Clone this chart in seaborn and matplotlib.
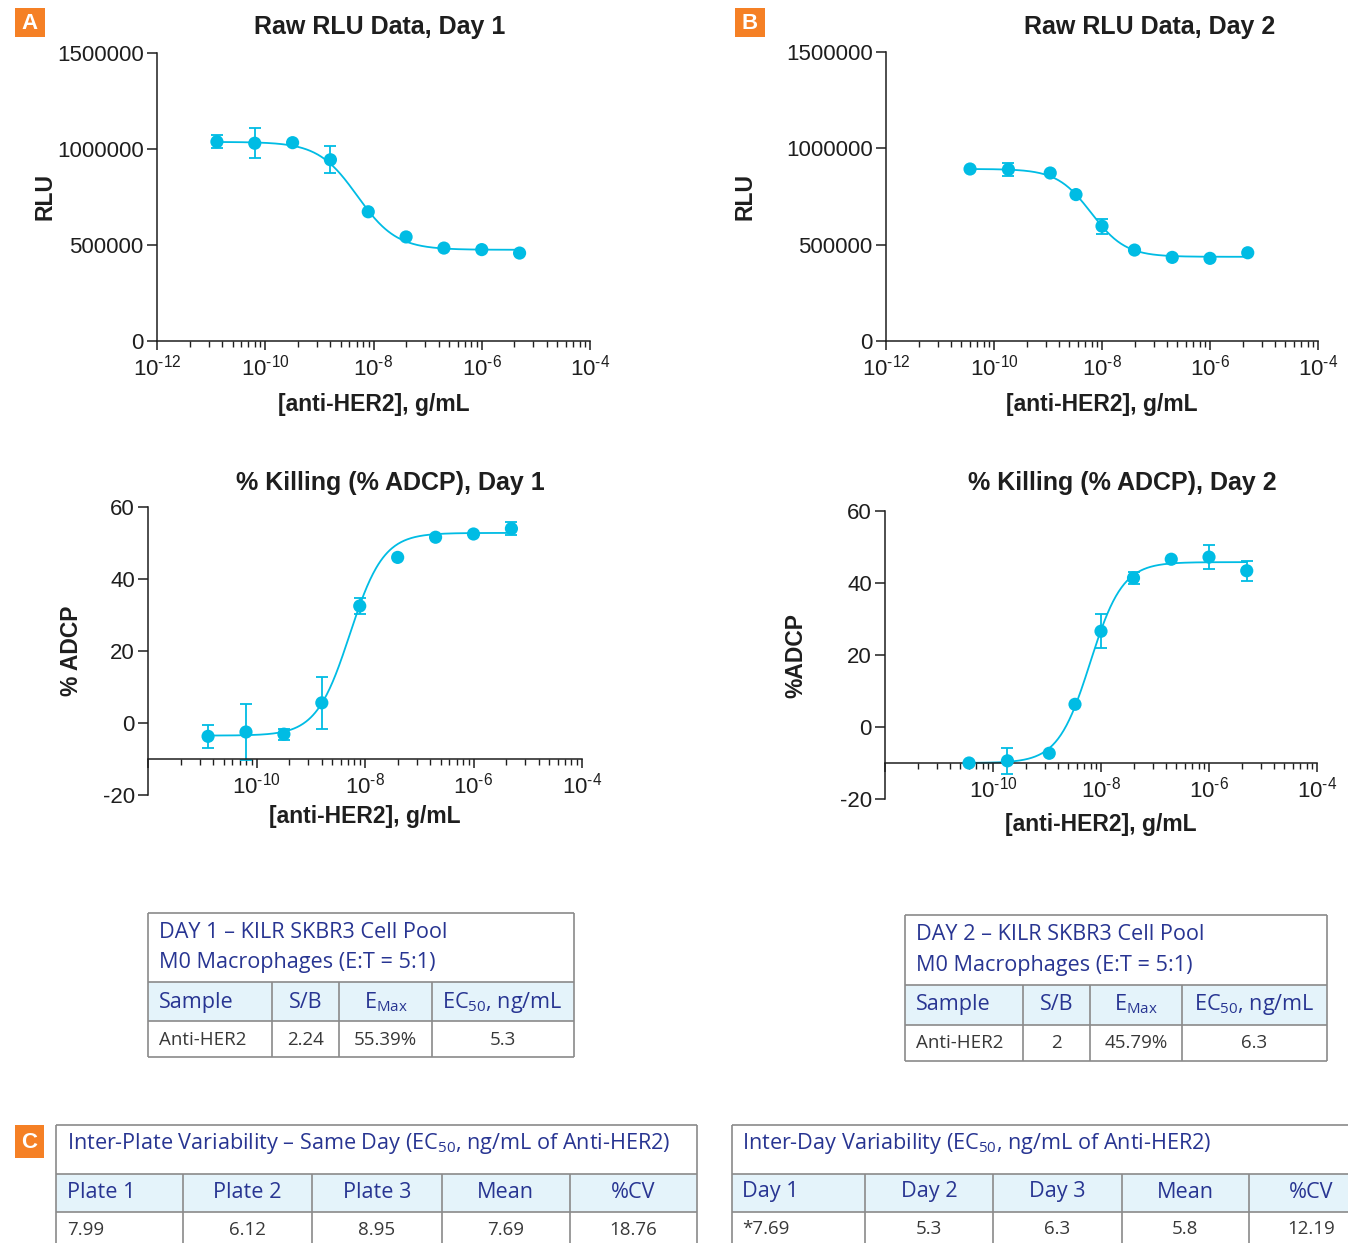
import numpy as np
import pandas as pd
import matplotlib
matplotlib.use("Agg")
import matplotlib.pyplot as plt
import seaborn as sns
from matplotlib.patches import Rectangle
from matplotlib.ticker import FixedLocator, NullFormatter

# ---------------- data ----------------
conc_day1 = [1.28e-11, 6.4e-11, 3.2e-10, 1.6e-9, 8e-9, 4e-8, 2e-7, 1e-6, 5e-6]
conc_day2 = [3.6e-11, 1.85e-10, 1.1e-9, 3.3e-9, 1.0e-8, 4e-8, 2e-7, 1e-6, 5e-6]

rlu_day1 = [1038000, 1030000, 1033000, 944000, 673000, 542000, 484000, 476000, 458000]
rlu_day1_err = [35000, 78000, 0, 71000, 0, 0, 0, 0, 0]
rlu_day2 = [892700, 890600, 871900, 760000, 596000, 472000, 434000, 429000, 458000]
rlu_day2_err = [0, 33000, 0, 0, 39000, 0, 0, 0, 0]

adcp_day1 = [-3.7, -2.5, -3.1, 5.6, 32.5, 46.0, 51.6, 52.5, 54.0]
adcp_day1_err = [3.2, 7.9, 1.5, 7.2, 2.1, 0, 0, 0, 1.8]
adcp_day2 = [-10.0, -9.4, -7.3, 6.3, 26.6, 41.4, 46.6, 47.2, 43.4]
adcp_day2_err = [0, 3.6, 0, 0, 4.7, 1.7, 0, 3.4, 2.8]

# 4PL fit parameters: (low-dose plateau, high-dose plateau, logEC50, hill)
fit_rlu_day1 = (1037000, 475000, -8.30, 1.2)
fit_rlu_day2 = (893000, 437000, -8.20, 1.37)
fit_adcp_day1 = (-3.5, 52.8, -8.28, 1.4)
fit_adcp_day2 = (-10.0, 45.8, -8.20, 1.45)

x_major = [1e-12, 1e-10, 1e-8, 1e-6, 1e-4]
x_major_labels = [r"$\mathdefault{10^{\text{-}12}}$", r"$\mathdefault{10^{\text{-}10}}$",
                  r"$\mathdefault{10^{\text{-}8}}$", r"$\mathdefault{10^{\text{-}6}}$",
                  r"$\mathdefault{10^{\text{-}4}}$"]
x_minor = [10.0 ** m * k ** 2 for m in (-12, -10, -8, -6) for k in range(2, 10)]

rlu_ticks = [0, 500000, 1000000, 1500000]
rlu_tick_labels = ["0", "500000", "1000000", "1500000"]
adcp_ticks = [-20, 0, 20, 40, 60]
adcp_tick_labels = ["-20", "0", "20", "40", "60"]

table1_title = ["DAY 1 \u2013 KILR SKBR3 Cell Pool", "M0 Macrophages (E:T = 5:1)"]
table2_title = ["DAY 2 \u2013 KILR SKBR3 Cell Pool", "M0 Macrophages (E:T = 5:1)"]
table_day_header = ["Sample", "S/B", r"E$_{\mathdefault{Max}}$", r"EC$_{\mathdefault{50}}$, ng/mL"]
table1_row = ["Anti-HER2", "2.24", "55.39%", "5.3"]
table2_row = ["Anti-HER2", "2", "45.79%", "6.3"]

plate_title = "Inter-Plate Variability \u2013 Same Day (EC$_{\\mathdefault{50}}$, ng/mL of Anti-HER2)"
plate_header = ["Plate 1", "Plate 2", "Plate 3", "Mean", "%CV"]
plate_row = ["7.99", "6.12", "8.95", "7.69", "18.76"]
day_title = r"Inter-Day Variability (EC$_{\mathdefault{50}}$, ng/mL of Anti-HER2)"
day_header = ["Day 1", "Day 2", "Day 3", "Mean", "%CV"]
day_row = ["*7.69", "5.3", "6.3", "5.8", "12.19"]

# ---------------- style ----------------
sns.set_style("ticks")
plt.rcParams["font.family"] = ["Liberation Sans", "DejaVu Sans"]
plt.rcParams["axes.unicode_minus"] = False
plt.rcParams["mathtext.fontset"] = "custom"
plt.rcParams["mathtext.rm"] = "Liberation Sans"
plt.rcParams["mathtext.it"] = "Liberation Sans:italic"
plt.rcParams["mathtext.bf"] = "Liberation Sans:bold"

CYAN = "#00BCE4"
INK = "#1e1e1e"
NAVY = "#283592"
GREY_TXT = "#383838"
BORDER = "#8a8a8a"
HEADBG = "#E4F3FA"
ORANGE = "#F58025"

W, H = 1348, 1243
fig = plt.figure(figsize=(W / 100, H / 100), dpi=100)


def px_axes(l, r, t, b):
    return fig.add_axes([l / W, 1 - b / H, (r - l) / W, (b - t) / H])


def four_pl(x, p):
    low, high, logec, h = p
    return high + (low - high) / (1 + 10 ** ((np.log10(x) - logec) * h))


def draw_panel(ax, conc, vals, errs, fit, yticks, ylabels, ylim, show_first_xlabel,
               xaxis_at=None):
    ax.set_xscale("log")
    conc = np.array(conc)
    vals = np.array(vals)
    errs = np.array(errs)
    xs = np.logspace(np.log10(conc.min()), np.log10(conc.max()), 400)
    sns.lineplot(x=xs, y=four_pl(xs, fit), ax=ax, color=CYAN, lw=1.3, zorder=2,
                 estimator=None, sort=False)
    m = errs > 0
    ax.errorbar(conc[m], vals[m], yerr=errs[m], fmt="none", ecolor=CYAN,
                elinewidth=1.3, capsize=4.6, capthick=1.3, zorder=2)
    df = pd.DataFrame({"conc": conc, "val": vals})
    sns.scatterplot(data=df, x="conc", y="val", ax=ax, color=CYAN, s=90,
                    edgecolor="none", linewidth=0, zorder=3)
    ax.set_xlim(1e-12, 1e-4)
    ax.set_ylim(*ylim)
    ax.xaxis.set_major_locator(FixedLocator(x_major))
    labs = list(x_major_labels)
    if not show_first_xlabel:
        labs[0] = ""
    ax.set_xticklabels(labs)
    ax.xaxis.set_minor_locator(FixedLocator(x_minor))
    ax.xaxis.set_minor_formatter(NullFormatter())
    ax.set_yticks(yticks)
    ax.set_yticklabels(ylabels)
    sns.despine(ax=ax)
    if xaxis_at is not None:
        ax.spines["bottom"].set_position(("data", xaxis_at))
    for s in ("left", "bottom"):
        ax.spines[s].set_linewidth(1.1)
        ax.spines[s].set_color(INK)
    ax.tick_params(axis="x", which="major", length=6.5, width=1.1, pad=3,
                   labelsize=16, colors=INK)
    ax.tick_params(axis="x", which="minor", length=4.5, width=1.0, colors=INK)
    ax.tick_params(axis="y", which="major", length=7.5, width=1.1, pad=2,
                   labelsize=16, colors=INK)
    ax.set_xlabel("")
    ax.set_ylabel("")


# Overlay axes for tables and panel badges
axt = fig.add_axes([0, 0, 1, 1])
axt.set_xlim(0, W)
axt.set_ylim(H, 0)
axt.axis("off")

# ---------- plots ----------
axA = px_axes(157, 590, 53, 341)
draw_panel(axA, conc_day1, rlu_day1, rlu_day1_err, fit_rlu_day1, rlu_ticks,
           rlu_tick_labels, (0, 1500000), True)
axB = px_axes(886, 1318, 52, 341)
draw_panel(axB, conc_day2, rlu_day2, rlu_day2_err, fit_rlu_day2, rlu_ticks,
           rlu_tick_labels, (0, 1500000), True)
axC = px_axes(148, 582, 507, 795)
draw_panel(axC, conc_day1, adcp_day1, adcp_day1_err, fit_adcp_day1, adcp_ticks,
           adcp_tick_labels, (-20, 60), False, xaxis_at=-10)
axD = px_axes(885, 1317, 511, 799)
draw_panel(axD, conc_day2, adcp_day2, adcp_day2_err, fit_adcp_day2, adcp_ticks,
           adcp_tick_labels, (-20, 60), False, xaxis_at=-10)

lab_kw = dict(fontsize=16.5, fontweight="bold", color=INK)
for ax, yl, yx, xy in [
    (axA, "RLU", (45 - 157) / 433, (404 - 341) / 288),
    (axB, "RLU", (745 - 886) / 432, (404 - 341) / 289),
    (axC, "% ADCP", (72 - 148) / 434, (816 - 795) / 288),
    (axD, "%ADCP", (796 - 885) / 432, (824 - 799) / 288),
]:
    ax.set_ylabel(yl, va="center", **lab_kw)
    ax.yaxis.set_label_coords(yx, 0.5)
    ax.set_xlabel("[anti-HER2], g/mL", va="center", **lab_kw)
    ax.xaxis.set_label_coords(0.5, -xy)

title_kw = dict(fontsize=18, fontweight="bold", color=INK, ha="center", va="center")
fig.text(380 / W, 1 - 27 / H, "Raw RLU Data, Day 1", **title_kw)
fig.text(1150 / W, 1 - 27 / H, "Raw RLU Data, Day 2", **title_kw)
fig.text(390 / W, 1 - 483 / H, "% Killing (% ADCP), Day 1", **title_kw)
fig.text(1122 / W, 1 - 483 / H, "% Killing (% ADCP), Day 2", **title_kw)

# ---------- panel badges ----------
for (bx, by, bw, bh, letter) in [(15, 8, 30, 29, "A"), (735, 8, 30, 29, "B"),
                                 (15, 1125, 29, 33, "C")]:
    axt.add_patch(Rectangle((bx, by), bw, bh, facecolor=ORANGE, edgecolor="none"))
    axt.text(bx + bw / 2, by + bh / 2 + 1, letter, color="white", fontsize=16,
             fontweight="bold", ha="center", va="center",
             family=["Liberation Sans", "DejaVu Sans"])

# ---------- tables ----------
TFONT = ["Open Sans", "DejaVu Sans"]


def hline(x0, x1, y):
    axt.plot([x0, x1], [y, y], color=BORDER, lw=1.2, solid_capstyle="butt")


def vline(x, y0, y1):
    axt.plot([x, x], [y0, y1], color=BORDER, lw=1.2, solid_capstyle="butt")


def draw_table(x0, x1, y0, yh0, yh1, y1, cols, title_lines, title_ys, header, row,
               text_x, centers, y_head, y_row, title_size=15.6, row_size=13.5):
    axt.add_patch(Rectangle((x0, yh0), x1 - x0, yh1 - yh0, facecolor=HEADBG,
                            edgecolor="none"))
    hline(x0, x1, y0)
    hline(x0, x1, yh0)
    hline(x0, x1, yh1)
    hline(x0, x1, y1)
    vline(x0, y0, y1)
    vline(x1, y0, y1)
    for c in cols:
        vline(c, yh0, y1)
    for t, ty in zip(title_lines, title_ys):
        axt.text(text_x, ty, t, color=NAVY, fontsize=title_size, ha="left",
                 va="center", family=TFONT)
    for i, (h, r) in enumerate(zip(header, row)):
        if i == 0:
            axt.text(text_x, y_head, h, color=NAVY, fontsize=title_size, ha="left",
                     va="center", family=TFONT)
            axt.text(text_x, y_row, r, color=GREY_TXT, fontsize=row_size, ha="left",
                     va="center", family=TFONT)
        else:
            axt.text(centers[i - 1], y_head, h, color=NAVY, fontsize=title_size,
                     ha="center", va="center", family=TFONT)
            axt.text(centers[i - 1], y_row, r, color=GREY_TXT, fontsize=row_size,
                     ha="center", va="center", family=TFONT)


draw_table(147.5, 574, 913, 982, 1021, 1057, [272.3, 339.3, 431.7], table1_title,
           [932, 962], table_day_header, table1_row, 159,
           [305.8, 385.5, 502.8], 1002, 1040)
draw_table(904.5, 1327.3, 914.5, 984.5, 1024.5, 1061, [1022.7, 1090, 1181.7],
           table2_title, [934, 965], table_day_header, table2_row, 915.5,
           [1056.3, 1135.8, 1254.5], 1004, 1043)
draw_table(55.5, 696.5, 1125, 1173.5, 1212, 1260, [183, 311.7, 441.7, 569.5],
           [plate_title], [1144], plate_header, plate_row, 67,
           [247.3, 376.7, 505.6, 633], 1193, 1230)
draw_table(731.5, 1380, 1125, 1173.5, 1212, 1260, [864.7, 993, 1121.6, 1248.5],
           [day_title], [1144], day_header, day_row, 742,
           [929, 1057.3, 1185, 1311], 1192, 1229)

fig.savefig("out.png", dpi=100)
